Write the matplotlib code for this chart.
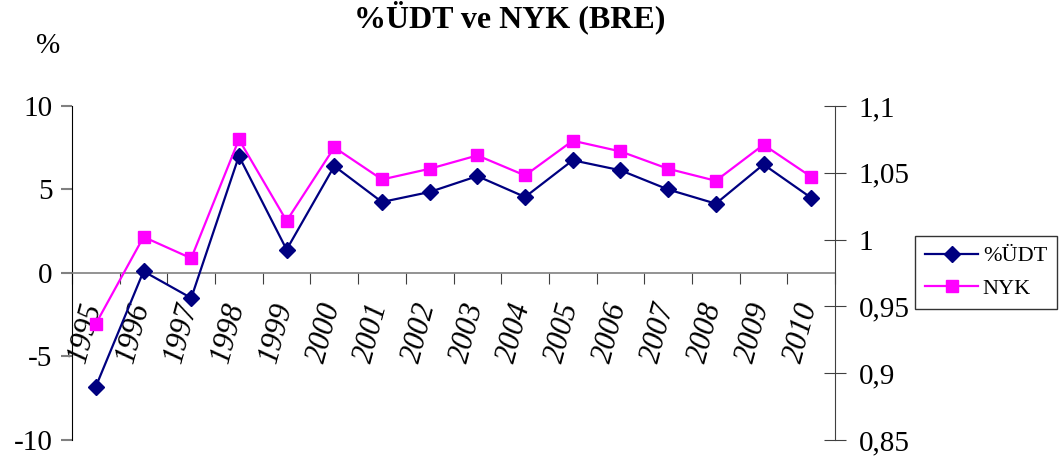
import matplotlib.pyplot as plt
import matplotlib.transforms as mtransforms
from matplotlib.ticker import FixedLocator, FuncFormatter, NullFormatter

plt.rcParams['font.family'] = ['Liberation Serif', 'DejaVu Serif']
plt.rcParams['axes.unicode_minus'] = False

years = ['1995', '1996', '1997', '1998', '1999', '2000', '2001', '2002',
         '2003', '2004', '2005', '2006', '2007', '2008', '2009', '2010']
udt = [-6.8, 0.1, -1.5, 7.0, 1.4, 6.4, 4.25, 4.85,
       5.8, 4.55, 6.75, 6.15, 5.0, 4.15, 6.5, 4.5]
nyk = [0.937, 1.002, 0.986, 1.075, 1.014, 1.069, 1.045, 1.053,
       1.063, 1.048, 1.074, 1.066, 1.053, 1.044, 1.071, 1.047]

x = list(range(len(years)))

fig = plt.figure(figsize=(10.62, 4.61), dpi=100)
ax = fig.add_axes([0.0678, 0.0456, 0.7185, 0.7245])
ax2 = ax.twinx()

l1, = ax.plot(x, udt, color='#000080', marker='D', markersize=8, lw=1.6, label='%ÜDT', zorder=3)
l2, = ax2.plot(x, nyk, color='#FF00FF', marker='s', markersize=9, lw=1.6, label='NYK', zorder=2)

ax.set_xlim(-0.5, len(years) - 0.5)
ax.set_ylim(-10, 10)
ax2.set_ylim(0.85, 1.1)

# x axis crossing at zero
ax.spines['bottom'].set_position(('data', 0))
ax.spines['bottom'].set_color('#808080')
ax.spines['bottom'].set_linewidth(1.2)
ax.spines['top'].set_visible(False)
ax2.spines['top'].set_visible(False)
ax2.spines['bottom'].set_visible(False)
ax.spines['right'].set_visible(False)
ax2.spines['left'].set_visible(False)
ax2.spines['right'].set_color('#404040')

ax.xaxis.set_major_locator(FixedLocator([i - 0.5 for i in range(len(years) + 1)]))
ax.xaxis.set_major_formatter(NullFormatter())
ax.xaxis.set_minor_locator(FixedLocator(x))
ax.set_xticklabels(years, minor=True, rotation=75, fontstyle='italic', fontsize=22)
ax.tick_params(axis='x', which='major', direction='out', length=8, color='#404040')
ax.tick_params(axis='x', which='minor', length=0, pad=19)
shift = mtransforms.ScaledTranslation(-10 / 100, 0, fig.dpi_scale_trans)
for lab in ax.get_xticklabels(minor=True):
    lab.set_horizontalalignment('center')
    lab.set_transform(lab.get_transform() + shift)

ax.set_yticks([-10, -5, 0, 5, 10])
ax.tick_params(axis='y', direction='out', length=8, labelsize=21, color='#808080', width=1.5, pad=6)

ax2.set_yticks([0.85, 0.9, 0.95, 1.0, 1.05, 1.1])
ax2.yaxis.set_major_formatter(FuncFormatter(lambda v, p: ('%g' % round(v, 2)).replace('.', ',')))
ax2.tick_params(axis='y', direction='inout', length=16, labelsize=21, color='#404040', pad=9)

fig.text(0.48, 0.962, '%ÜDT ve NYK (BRE)', ha='center', va='center', fontsize=23, fontweight='bold')
fig.text(0.045, 0.9, '%', ha='center', va='center', fontsize=21)

leg = fig.legend([l1, l2], ['%ÜDT', 'NYK'], loc='center',
                 bbox_to_anchor=(0.858, 0.3145, 0.141, 0.189),
                 fontsize=16, frameon=True, fancybox=False, edgecolor='black',
                 handlelength=2.4, handletextpad=0.2, borderpad=0.45, labelspacing=0.55,
                 borderaxespad=0)
leg.get_frame().set_linewidth(1.0)

fig.savefig('out.png', dpi=100)
